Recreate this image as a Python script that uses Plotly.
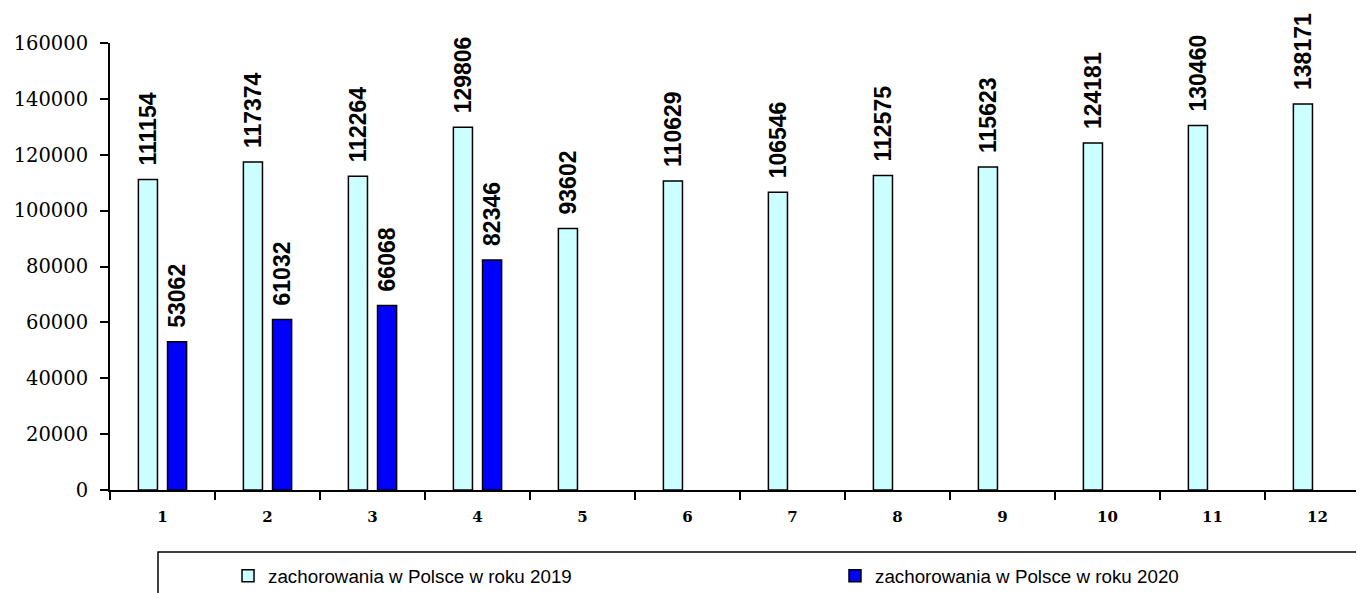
import plotly.graph_objects as go

months = ["1", "2", "3", "4", "5", "6", "7", "8", "9", "10", "11", "12"]
cases_2019 = [111154, 117374, 112264, 129806, 93602, 110629, 106546, 112575, 115623, 124181, 130460, 138171]
cases_2020 = [53062, 61032, 66068, 82346, None, None, None, None, None, None, None, None]
name_2019 = "zachorowania w Polsce w roku 2019"
name_2020 = "zachorowania w Polsce w roku 2020"
y_ticks = [0, 20000, 40000, 60000, 80000, 100000, 120000, 140000, 160000]

PAD = "\u00a0\u2009"

def labels(vals):
    return [PAD + str(v) if v is not None else "" for v in vals]

label_font = dict(family="Liberation Sans, Arial", size=23, color="black", weight="bold")

fig = go.Figure()
fig.add_trace(go.Bar(
    x=months, y=cases_2019, name=name_2019, legend="legend",
    marker=dict(color="#CCFFFF", line=dict(color="black", width=1.5)),
    text=labels(cases_2019), textposition="outside", textangle=-90,
    textfont=label_font, constraintext="none", cliponaxis=False,
))
fig.add_trace(go.Bar(
    x=months, y=cases_2020, name=name_2020, legend="legend2",
    marker=dict(color="#0000FF", line=dict(color="black", width=1.5)),
    text=labels(cases_2020), textposition="outside", textangle=-90,
    textfont=label_font, constraintext="none", cliponaxis=False,
))

legend_common = dict(
    orientation="h", xref="container", yref="container",
    y=0.042, xanchor="left", yanchor="middle",
    font=dict(family="Liberation Sans, Arial", size=18.8, color="black"),
    bgcolor="rgba(0,0,0,0)",
)

fig.update_layout(
    width=1364, height=593,
    margin=dict(l=102, r=2, t=35, b=111),
    paper_bgcolor="white", plot_bgcolor="white",
    barmode="group", bargap=0.445, bargroupgap=0.345,
    showlegend=True,
    legend=dict(x=0.1613, **legend_common),
    legend2=dict(x=0.6063, **legend_common),
    xaxis=dict(
        type="category", range=[-0.5, 11.5],
        tickson="boundaries", ticks="outside", ticklen=8, tickwidth=1.5, tickcolor="black",
        ticklabelstandoff=12,
        showline=True, linecolor="black", linewidth=2,
        showgrid=False, zeroline=False,
        tickfont=dict(family="DejaVu Serif", size=15, color="black", weight="bold"),
    ),
    yaxis=dict(
        range=[0, 160000], tickvals=y_ticks, ticktext=[str(v) for v in y_ticks],
        ticks="outside", ticklen=8, tickwidth=1.5, tickcolor="black",
        ticklabelstandoff=8,
        showline=True, linecolor="black", linewidth=2,
        showgrid=False, zeroline=False,
        tickfont=dict(family="DejaVu Serif", size=19.5, color="black"),
    ),
    shapes=[dict(
        type="rect", xref="paper", yref="paper",
        x0=0.0381, x1=1.2, y0=-0.4, y1=-0.1387,
        line=dict(color="black", width=1.5), fillcolor="rgba(0,0,0,0)", layer="below",
    )],
)

fig.write_html("out.html")
